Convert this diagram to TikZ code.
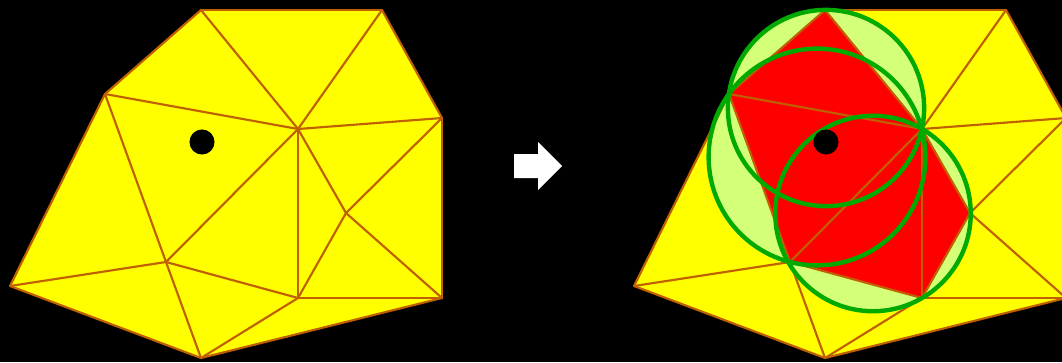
\documentclass[tikz,border=0pt]{standalone}
\usepackage{xcolor}
\usepackage{tikz}
\usetikzlibrary{calc}

\definecolor{meshyellow}{RGB}{255,255,0}
\definecolor{meshedge}{RGB}{192,96,0}
\definecolor{cavred}{RGB}{255,0,0}
\definecolor{circfill}{RGB}{212,255,120}
\definecolor{circline}{RGB}{0,170,0}

\begin{document}
\begin{tikzpicture}[
  x=0.75pt, y=-0.75pt,
  edge/.style={draw=meshedge, line width=1.6pt, line join=round, line cap=round},
  circumfill/.style={fill=circfill},
  circumline/.style={draw=circline, line width=3.3pt},
  cavity/.style={fill=cavred},
  newpoint/.style={fill=black}
]
\fill[black] (0,0) rectangle (1062,362);
\clip (0,0) rectangle (1062,362);

% mesh points, left copy (l) and right copy (r)
\foreach \s/\dx in {l/0, r/624} {
  \coordinate (A\s) at (201+\dx,10);
  \coordinate (B\s) at (382+\dx,10);
  \coordinate (C\s) at (442+\dx,118);
  \coordinate (D\s) at (442+\dx,298);
  \coordinate (E\s) at (298+\dx,298);
  \coordinate (F\s) at (201+\dx,358);
  \coordinate (G\s) at (10+\dx,286);
  \coordinate (H\s) at (105+\dx,94);
  \coordinate (I\s) at (298+\dx,129);
  \coordinate (J\s) at (346+\dx,213);
  \coordinate (K\s) at (166+\dx,262);
  \coordinate (P\s) at (202+\dx,142);
}

% circumcentres of the bad triangles
\coordinate (c1) at (826,108);
\coordinate (c2) at (817,157);
\coordinate (c3) at (873,213.5);

% yellow hulls
\foreach \s in {l,r}
  \fill[meshyellow] (A\s) -- (B\s) -- (C\s) -- (D\s) -- (F\s) -- (G\s) -- (H\s) -- cycle;

% circumcircles and cavity
\fill[circumfill] (c1) circle[radius=73.6pt];
\fill[circumfill] (c2) circle[radius=81.3pt];
\fill[circumfill] (c3) circle[radius=73.3pt];
\fill[cavity] (Hr) -- (Ar) -- (Ir) -- (Jr) -- (Er) -- (Kr) -- cycle;

% mesh edges
\foreach \s in {l,r}
  \foreach \u/\v in {A/B, B/C, C/D, D/F, D/E, E/F, F/G, G/H, H/A,
                     A/I, B/I, C/I, H/I, H/K, G/K, F/K, E/K,
                     I/K, I/E, I/J, C/J, D/J, E/J}
    \draw[edge] (\u\s) -- (\v\s);

\draw[circumline] (c1) circle[radius=73.6pt];
\draw[circumline] (c2) circle[radius=81.3pt];
\draw[circumline] (c3) circle[radius=73.3pt];

% inserted point
\foreach \s in {l,r}
  \fill[newpoint] (P\s) circle[radius=9.4pt];

% arrow
\fill[white] (514,154) -- (538,154) -- (538,142) -- (562,166)
  -- (538,190) -- (538,178) -- (514,178) -- cycle;
\end{tikzpicture}
\end{document}
